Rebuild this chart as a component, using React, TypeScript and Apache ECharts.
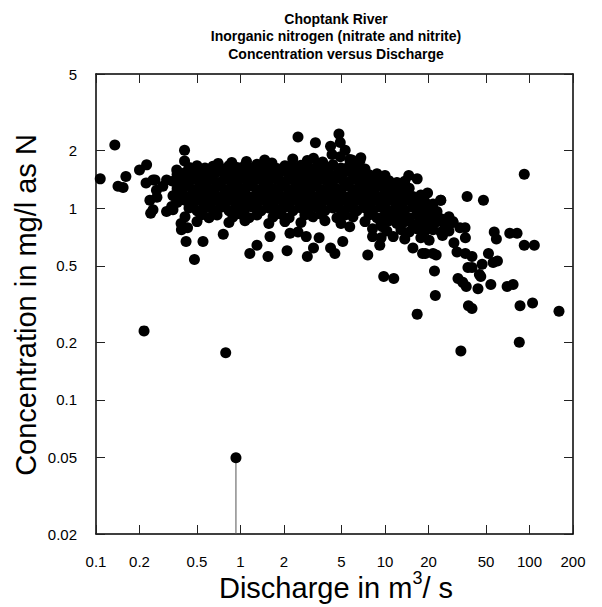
import React, { useEffect, useRef } from "react";
import * as echarts from "echarts";

const FONT = '"Liberation Sans", Arial, Helvetica, sans-serif';

const xTicks = [0.1, 0.2, 0.5, 1, 2, 5, 10, 20, 50, 100, 200];
const yTicks = [0.02, 0.05, 0.1, 0.2, 0.5, 1, 2, 5];

const titleLines = [
  "Choptank River",
  "Inorganic nitrogen (nitrate and nitrite)",
  "Concentration versus Discharge",
];

// [discharge m3/s, concentration mg/l]
const lowFlowPoints: [number, number][] = [
  [0.107, 1.42], [0.135, 2.13], [0.142, 1.3], [0.154, 1.28], [0.161, 1.46],
  [0.2, 1.58], [0.224, 1.68], [0.222, 1.35], [0.256, 1.4], [0.236, 1.1],
  [0.239, 0.94], [0.215, 0.229], [0.248, 1.4], [0.264, 1.14], [0.248, 0.98],
  [0.308, 1.4], [0.308, 0.96], [0.334, 1.02], [0.362, 1.12], [0.362, 1.58],
  [0.262, 1.24], [0.29, 1.3],
];

const rowTop: [number, number][] = [
  [0.41, 1.76], [0.7, 1.71], [0.87, 1.73], [1.1, 1.75], [1.47, 1.78], [1.65, 1.72],
  [2.3, 1.8], [2.9, 1.77], [3.2, 1.82], [3.7, 1.74], [4.9, 1.85], [5.7, 1.79],
  [6.7, 1.76], [4.3, 1.9], [1.3, 1.69], [0.41, 2.0], [2.5, 2.35], [3.3, 2.19],
  [4.8, 2.43], [4.9, 2.2], [4.2, 2.1], [5.3, 2.0], [5.9, 1.78], [6.8, 1.83],
];

const row164: [number, number][] = [
  [0.44, 1.63], [0.5, 1.66], [0.568, 1.62], [0.645, 1.65], [0.733, 1.61], [0.832, 1.66],
  [0.946, 1.63], [1.074, 1.67], [1.22, 1.62], [1.39, 1.65], [1.57, 1.64], [1.79, 1.61],
  [2.03, 1.66], [2.31, 1.63], [2.62, 1.67], [2.98, 1.62], [3.38, 1.65], [3.84, 1.64],
  [4.36, 1.68], [4.96, 1.62], [5.63, 1.65], [6.4, 1.61], [7.27, 1.6],
];

const row151: [number, number][] = [
  [0.364, 1.5], [0.413, 1.53], [0.469, 1.49], [0.533, 1.52], [0.605, 1.5], [0.688, 1.54],
  [0.781, 1.49], [0.887, 1.52], [1.008, 1.5], [1.145, 1.53], [1.3, 1.49], [1.478, 1.52],
  [1.68, 1.5], [1.91, 1.54], [2.17, 1.49], [2.46, 1.52], [2.79, 1.51], [3.17, 1.53],
  [3.61, 1.49], [4.1, 1.52], [4.65, 1.5], [5.29, 1.54], [6.0, 1.5], [6.82, 1.52],
  [7.75, 1.49], [8.8, 1.51], [10.0, 1.48],
];

const row139: [number, number][] = [
  [0.341, 1.38], [0.388, 1.41], [0.44, 1.37], [0.5, 1.4], [0.568, 1.38], [0.645, 1.41],
  [0.733, 1.37], [0.832, 1.4], [0.946, 1.39], [1.074, 1.42], [1.22, 1.37], [1.39, 1.4],
  [1.57, 1.38], [1.79, 1.41], [2.03, 1.37], [2.31, 1.4], [2.62, 1.39], [2.98, 1.41],
  [3.38, 1.37], [3.84, 1.4], [4.36, 1.38], [4.96, 1.42], [5.63, 1.37], [6.4, 1.4],
  [7.27, 1.38], [8.26, 1.41], [9.38, 1.37], [10.66, 1.39], [12.1, 1.36], [13.7, 1.38],
  [14.6, 1.48], [16.7, 1.42],
];

const row127: [number, number][] = [
  [0.364, 1.26], [0.413, 1.29], [0.469, 1.25], [0.533, 1.28], [0.605, 1.26], [0.688, 1.29],
  [0.781, 1.25], [0.887, 1.28], [1.008, 1.27], [1.145, 1.3], [1.3, 1.25], [1.478, 1.28],
  [1.68, 1.26], [1.91, 1.29], [2.17, 1.25], [2.46, 1.28], [2.79, 1.27], [3.17, 1.29],
  [3.61, 1.25], [4.1, 1.28], [4.65, 1.26], [5.29, 1.3], [6.0, 1.25], [6.82, 1.28],
  [7.75, 1.26], [8.8, 1.29], [10.0, 1.25], [11.4, 1.28], [12.9, 1.26], [14.7, 1.27],
];

const row117: [number, number][] = [
  [0.341, 1.16], [0.388, 1.19], [0.44, 1.15], [0.5, 1.18], [0.568, 1.16], [0.645, 1.19],
  [0.733, 1.15], [0.832, 1.18], [0.946, 1.17], [1.074, 1.19], [1.22, 1.15], [1.39, 1.18],
  [1.57, 1.16], [1.79, 1.19], [2.03, 1.15], [2.31, 1.18], [2.62, 1.17], [2.98, 1.19],
  [3.38, 1.15], [3.84, 1.18], [4.36, 1.16], [4.96, 1.19], [5.63, 1.15], [6.4, 1.18],
  [7.27, 1.16], [8.26, 1.19], [9.38, 1.15], [10.66, 1.18], [12.1, 1.16], [13.7, 1.19],
  [15.6, 1.15], [17.7, 1.17], [19.7, 1.2],
];

const row108: [number, number][] = [
  [0.364, 1.07], [0.413, 1.1], [0.469, 1.06], [0.533, 1.09], [0.605, 1.07], [0.688, 1.1],
  [0.781, 1.06], [0.887, 1.09], [1.008, 1.08], [1.145, 1.1], [1.3, 1.06], [1.478, 1.09],
  [1.68, 1.07], [1.91, 1.1], [2.17, 1.06], [2.46, 1.09], [2.79, 1.08], [3.17, 1.1],
  [3.61, 1.06], [4.1, 1.09], [4.65, 1.07], [5.29, 1.1], [6.0, 1.06], [6.82, 1.09],
  [7.75, 1.07], [8.8, 1.1], [10.0, 1.06], [11.4, 1.09], [12.9, 1.07], [14.7, 1.1],
  [16.6, 1.06], [18.9, 1.08], [21.5, 1.05], [24.3, 1.1],
];

const row099: [number, number][] = [
  [0.341, 0.98], [0.44, 1.0], [0.5, 0.97], [0.568, 1.0], [0.645, 0.98], [0.733, 1.01],
  [0.832, 0.97], [0.946, 1.0], [1.074, 0.99], [1.22, 1.01], [1.39, 0.97], [1.57, 1.0],
  [1.79, 0.98], [2.03, 1.01], [2.31, 0.97], [2.62, 1.0], [2.98, 0.99], [3.38, 1.01],
  [3.84, 0.97], [4.36, 1.0], [4.96, 0.98], [5.63, 1.01], [6.4, 0.97], [7.27, 1.0],
  [8.26, 0.98], [9.38, 1.01], [10.66, 0.97], [12.1, 1.0], [13.7, 0.98], [15.6, 1.01],
  [17.7, 0.97], [20.2, 0.99], [22.9, 0.96],
];

const row091: [number, number][] = [
  [0.413, 0.9], [0.533, 0.92], [0.605, 0.89], [0.688, 0.92], [0.887, 0.9], [1.008, 0.93],
  [1.145, 0.89], [1.3, 0.92], [1.68, 0.9], [1.91, 0.93], [2.17, 0.89], [2.79, 0.92],
  [3.17, 0.9], [3.61, 0.93], [4.65, 0.89], [5.29, 0.92], [6.0, 0.9], [7.75, 0.92],
  [8.8, 0.89], [10.0, 0.92], [11.4, 0.9], [12.9, 0.93], [14.7, 0.89], [16.6, 0.92],
  [18.9, 0.9], [21.5, 0.92], [24.4, 0.88], [27.7, 0.9],
];

const row084: [number, number][] = [
  [0.388, 0.83], [0.5, 0.85], [0.832, 0.84], [1.074, 0.86], [1.57, 0.83], [2.03, 0.85],
  [2.62, 0.84], [3.84, 0.86], [4.96, 0.83], [7.27, 0.85], [9.38, 0.83], [10.66, 0.86],
  [12.1, 0.83], [13.7, 0.85], [15.6, 0.82], [17.7, 0.84], [20.2, 0.83], [22.9, 0.85],
  [26.0, 0.82], [29.6, 0.84],
];

const row075: [number, number][] = [
  [8.2, 0.78], [10.3, 0.76], [12.9, 0.77], [14.7, 0.75], [16.6, 0.78], [18.9, 0.76],
  [21.5, 0.77], [24.4, 0.75], [27.7, 0.76], [9.4, 0.7], [11.4, 0.71], [13.7, 0.69],
  [17.7, 0.7], [20.2, 0.68], [25.0, 0.72],
];

const scatteredPoints: [number, number][] = [
  [0.39, 0.77], [0.42, 0.67], [0.48, 0.54], [0.55, 0.67], [0.43, 0.79], [0.76, 0.73],
  [1.16, 0.58], [1.3, 0.64], [1.55, 0.56], [1.6, 0.71], [2.1, 0.6], [2.2, 0.74],
  [2.9, 0.56], [3.2, 0.62], [3.5, 0.7], [2.5, 0.75], [2.85, 0.71], [4.2, 0.62],
  [4.5, 0.58], [5.1, 0.67], [5.7, 0.8], [7.6, 0.57], [8.2, 0.71], [9.2, 0.64],
  [9.6, 0.8], [15.6, 0.62], [19.0, 0.58], [21.5, 0.58], [18.2, 0.58], [22.0, 0.47],
  [36.0, 0.7], [37.0, 1.15], [48.0, 1.1], [92.0, 1.5], [24.3, 1.1], [29.5, 0.85],
  [35.8, 0.79], [33.0, 0.79], [30.0, 0.66], [57.0, 0.75], [59.0, 0.69], [73.0, 0.74],
  [82.0, 0.74], [92.0, 0.64], [108.0, 0.64], [52.0, 0.58], [60.0, 0.53], [56.0, 0.52],
  [47.0, 0.51], [37.5, 0.49], [40.0, 0.49], [45.0, 0.45], [32.0, 0.43], [9.8, 0.44],
  [11.5, 0.43], [0.79, 0.176], [22.3, 0.35], [16.7, 0.28], [33.5, 0.18], [34.5, 0.41],
  [36.5, 0.39], [44.0, 0.38], [46.0, 0.44], [54.0, 0.4], [37.8, 0.31], [40.0, 0.3],
  [70.0, 0.39], [77.0, 0.4], [86.0, 0.31], [105.0, 0.32], [160.0, 0.29], [85.0, 0.2],
  [31.5, 0.59], [36.0, 0.58], [40.0, 0.56], [22.6, 0.57],
];

const censoredPoint: [number, number] = [0.93, 0.05];
const axisFloor = 0.02;

const allPoints = [
  ...lowFlowPoints, ...rowTop, ...row164, ...row151, ...row139, ...row127,
  ...row117, ...row108, ...row099, ...row091, ...row084, ...row075, ...scatteredPoints,
  censoredPoint,
];

const lg = (v: number) => Math.log10(v);
const fmt = (v: number) => String(Number(Math.pow(10, v).toPrecision(2)));

export default function App() {
  const ref = useRef<HTMLDivElement>(null);
  useEffect(() => {
    if (!ref.current) return;
    const chart = echarts.init(ref.current, undefined, { renderer: "svg" });
    const xVals = xTicks.map(lg);
    const yVals = yTicks.map(lg);
    const axisLine = { show: true, onZero: false, lineStyle: { color: "#000", width: 1.5 } };
    const tick = (vals: number[]) => ({
      show: true, inside: true, length: 9, customValues: vals,
      lineStyle: { color: "#222", width: 1 },
    });
    const labelStyle = { fontFamily: FONT, fontSize: 15, color: "#000" };
    const xBase = {
      type: "value" as const, min: lg(xTicks[0]), max: lg(xTicks[xTicks.length - 1]),
      axisLine, splitLine: { show: false }, axisTick: tick(xVals),
    };
    const yBase = {
      type: "value" as const, min: lg(yTicks[0]), max: lg(yTicks[yTicks.length - 1]),
      axisLine, splitLine: { show: false }, axisTick: tick(yVals),
    };
    chart.setOption({
      animation: false,
      backgroundColor: "#fff",
      title: {
        text: titleLines.join("\n"),
        left: 331, top: 5, textAlign: "center",
        textStyle: { fontFamily: FONT, fontSize: 14, fontWeight: "bold", lineHeight: 17.5, color: "#000" },
      },
      grid: { left: 96, top: 74, width: 477, height: 460, containLabel: false },
      xAxis: [
        { ...xBase, position: "bottom",
          axisLabel: { ...labelStyle, margin: 20, customValues: xVals, formatter: fmt } },
        { ...xBase, position: "top", axisLabel: { show: false } },
      ],
      yAxis: [
        { ...yBase, position: "left",
          axisLabel: { ...labelStyle, margin: 19, customValues: yVals, formatter: fmt } },
        { ...yBase, position: "right", axisLabel: { show: false } },
      ],
      graphic: [
        {
          type: "text", x: 26, y: 305, rotation: Math.PI / 2,
          style: {
            text: "Concentration in mg/l as N", fontFamily: FONT, fontSize: 29,
            fill: "#000", textAlign: "center", textVerticalAlign: "middle",
          },
        },
        {
          type: "text", x: 336, y: 588,
          style: {
            text: "Discharge in m{sup|3}/ s", fontFamily: FONT, fontSize: 29, lineHeight: 38,
            fill: "#000", textAlign: "center", textVerticalAlign: "middle",
            rich: { sup: { fontFamily: FONT, fontSize: 18, lineHeight: 18, verticalAlign: "top", fill: "#000" } },
          },
        },
      ],
      series: [
        {
          type: "line", xAxisIndex: 0, yAxisIndex: 0, symbol: "none", silent: true,
          data: [[lg(censoredPoint[0]), lg(axisFloor)], [lg(censoredPoint[0]), lg(censoredPoint[1])]],
          lineStyle: { color: "#555", width: 1 }, z: 1,
        },
        {
          type: "scatter", xAxisIndex: 0, yAxisIndex: 0, symbol: "circle", symbolSize: 11,
          itemStyle: { color: "#000", opacity: 1, borderWidth: 0 }, z: 2,
          data: allPoints.map(([x, y]) => [lg(x), lg(y)]),
        },
      ],
    });
    return () => chart.dispose();
  }, []);
  return (
    <div ref={ref} style={{ position: "absolute", left: 0, top: 0, width: 602, height: 607, background: "#fff" }} />
  );
}
